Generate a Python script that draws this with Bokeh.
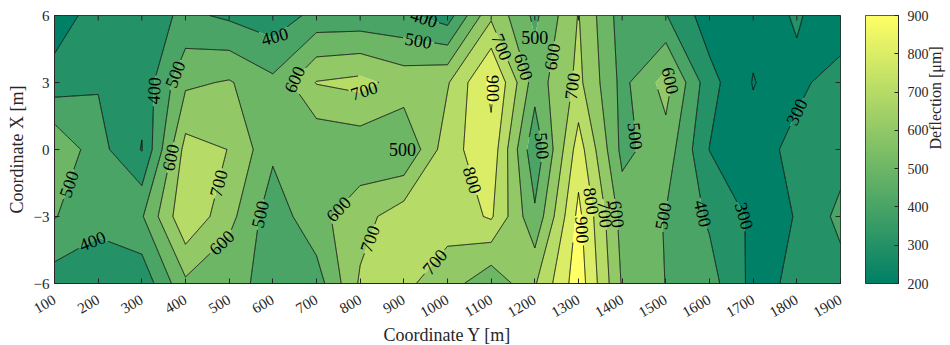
import numpy as np
from bokeh.plotting import figure
from bokeh.layouts import row
from bokeh.models import FixedTicker, ColumnDataSource, LinearColorMapper, Range1d
from bokeh.core.properties import value
from bokeh.embed import file_html
from bokeh.resources import INLINE
from contourpy import contour_generator

# ---------------- data ----------------
coord_y = [100, 200, 300, 400, 500, 600, 700, 800, 900, 1000,
           1100, 1200, 1300, 1400, 1500, 1600, 1700, 1800, 1900]
coord_x = [-6, -3, 0, 3, 6]

# deflection [um] along each row of constant Coordinate X
z_at_x_neg6 = [350, 330, 330, 580, 515, 484, 450, 715, 720, 650, 520, 690, 960, 590, 498, 440, 270, 319, 355]
z_at_x_neg3 = [505, 432, 490, 785, 633, 440, 570, 660, 760, 740, 813, 520, 928, 560, 495, 385, 280, 302, 430]
z_at_x_0    = [595, 437, 295, 737, 698, 520, 510, 530, 499, 760, 869, 420, 850, 471, 557, 298, 240, 340, 354]
z_at_x_pos3 = [345, 392, 330, 581, 609, 524, 705, 730, 660, 690, 925, 546, 725, 470, 640, 335, 195, 270, 360]
z_at_x_pos6 = [240, 350, 346, 422, 382, 339, 430, 430, 420, 350, 680, 478, 705, 450, 405, 246, 230, 315, 210]

contour_levels = [200, 300, 400, 500, 600, 700, 800, 900]
y_tick_values = [-6, -3, 0, 3, 6]
cbar_ticks = [200, 300, 400, 500, 600, 700, 800, 900]

# contour labels: level and approximate anchor (Coordinate Y, Coordinate X)
label_level = [400, 500, 500, 400, 600, 700, 600, 500, 400, 600, 700, 500, 400, 500, 600, 700, 700, 700,
               900, 800, 600, 500, 600, 500, 700, 800, 900, 700, 600, 600, 500, 500, 400, 300, 300]
label_anchor_y = [324, 372, 129, 182, 365, 473, 484, 564, 599, 656, 807, 933, 944, 853, 754, 816, 961, 1115,
                  1109, 1079, 1171, 1201, 1228, 1203, 1275, 1334, 1300, 1368, 1396, 1504, 1441, 1492, 1584, 1694, 1793]
label_anchor_x = [2.64, 3.4, -1.52, -3.94, -0.36, -1.52, -4.2, -2.87, 5.2, 3.0, 2.7, 4.88, 5.7, 0.04, -2.73, -3.94,
                  -4.88, 4.5, 2.73, -1.25, 3.67, 4.75, 4.2, 0.1, 2.87, -2.28, -3.6, -2.87, -2.87, 3.0, 0.63, -2.96,
                  -2.87, -2.82, 1.75]

# ---------------- styling ----------------
FONT = "Liberation Serif"
INK = "#262626"
FRAME_W, FRAME_H = 786, 268
TICK_LEN = 5


def summer(t):
    return "#%02x%02x%02x" % (round(255 * t), round(255 * (0.5 + 0.5 * t)), round(255 * 0.4))


Z = np.array([z_at_x_neg6, z_at_x_neg3, z_at_x_0, z_at_x_pos3, z_at_x_pos6], dtype=float)
yv = np.array(coord_y, dtype=float)
xv = np.array(coord_x, dtype=float)

nb = len(contour_levels) - 1
fill_levels = [min(Z.min(), contour_levels[0]) - 50] + contour_levels + [max(Z.max(), contour_levels[-1]) + 100]
band_colors = [summer(0.0)] + [summer(k / nb) for k in range(nb)] + [summer(1.0)]

y0, x0 = yv[0], xv[0]
sx = FRAME_W / (yv[-1] - yv[0])
sy = FRAME_H / (xv[-1] - xv[0])


def to_px(pts):
    return np.column_stack(((pts[:, 0] - y0) * sx, (pts[:, 1] - x0) * sy))


def densify(P, step=0.75):
    out = [P[:1]]
    seg = np.diff(P, axis=0)
    lens = np.hypot(seg[:, 0], seg[:, 1])
    for a, d, l in zip(P[:-1], seg, lens):
        k = max(1, int(np.ceil(l / step)))
        t = (np.arange(1, k + 1) / k)[:, None]
        out.append(a + d * t)
    return np.vstack(out)


cg = contour_generator(yv, xv, Z)
dense = {}
for lev in contour_levels:
    dense[lev] = [densify(to_px(np.asarray(l))) for l in cg.lines(lev) if len(l) > 1]

# place labels on the nearest point of their contour
lab_x, lab_y, lab_t, lab_a = [], [], [], []
hits = []
for lev, ay, ax in zip(label_level, label_anchor_y, label_anchor_x):
    A = np.array([(ay - y0) * sx, (ax - x0) * sy])
    best = None
    for li, L in enumerate(dense[lev]):
        d = np.hypot(L[:, 0] - A[0], L[:, 1] - A[1])
        i = int(d.argmin())
        if best is None or d[i] < best[0]:
            best = (d[i], li, i)
    if best is None:
        continue
    _, li, i = best
    L = dense[lev][li]
    i0, i1 = max(0, i - 14), min(len(L) - 1, i + 14)
    ang = np.arctan2(L[i1, 1] - L[i0, 1], L[i1, 0] - L[i0, 0])
    while ang > np.pi / 2:
        ang -= np.pi
    while ang <= -np.pi / 2:
        ang += np.pi
    c = L[i]
    hits.append((lev, li, c))
    lab_x.append(c[0] / sx + y0)
    lab_y.append(c[1] / sy + x0)
    lab_t.append(str(lev))
    lab_a.append(float(ang))

R = 15.5
line_xs, line_ys = [], []
for lev in contour_levels:
    for li, L in enumerate(dense[lev]):
        keep = np.ones(len(L), dtype=bool)
        for (lv, idx, c) in hits:
            if lv == lev and idx == li:
                keep &= np.hypot(L[:, 0] - c[0], L[:, 1] - c[1]) > R
        idxs = np.flatnonzero(keep)
        if len(idxs) == 0:
            continue
        br = np.flatnonzero(np.diff(idxs) > 1)
        starts = np.r_[0, br + 1]
        ends = np.r_[br, len(idxs) - 1]
        for s, e in zip(starts, ends):
            seg = L[idxs[s]:idxs[e] + 1]
            if len(seg) >= 2:
                line_xs.append(list(seg[:, 0] / sx + y0))
                line_ys.append(list(seg[:, 1] / sy + x0))

# ---------------- main figure ----------------
p = figure(x_range=Range1d(yv[0], yv[-1]), y_range=Range1d(xv[0], xv[-1]),
           frame_width=FRAME_W, frame_height=FRAME_H,
           min_border_left=54, min_border_right=25, min_border_top=15, min_border_bottom=62,
           output_backend="svg", toolbar_location=None)
p.grid.visible = False
p.outline_line_color = INK
p.background_fill_color = "white"

p.contour(yv, xv, Z, fill_levels, fill_color=band_colors, line_color=None)
p.multi_line(xs=line_xs, ys=line_ys, line_color="black", line_width=0.9)

src = ColumnDataSource(dict(x=lab_x, y=lab_y, text=lab_t, angle=lab_a))
p.text(x="x", y="y", text="text", angle="angle", source=src,
       text_font=value(FONT), text_font_size="18px", text_color="black",
       text_align="center", text_baseline="middle")

# inward tick marks on the top and right edges (box style)
n_top = len(coord_y)
p.segment(x0=coord_y, y0=[xv[-1]] * n_top, x1=coord_y, y1=[xv[-1] - TICK_LEN / sy] * n_top,
          line_color=INK, line_width=1)
n_r = len(y_tick_values)
p.segment(x0=[yv[-1]] * n_r, y0=y_tick_values, x1=[yv[-1] - TICK_LEN / sx] * n_r, y1=y_tick_values,
          line_color=INK, line_width=1)

p.xaxis.ticker = FixedTicker(ticks=coord_y)
p.yaxis.ticker = FixedTicker(ticks=y_tick_values)
p.xaxis.major_label_orientation = np.pi / 6
p.xaxis.axis_label = "Coordinate Y [m]"
p.yaxis.axis_label = "Coordinate X [m]"
for ax in p.axis:
    ax.major_tick_in = TICK_LEN
    ax.major_tick_out = 0
    ax.minor_tick_line_color = None
    ax.axis_line_color = INK
    ax.major_tick_line_color = INK
    ax.major_label_text_font = FONT
    ax.major_label_text_font_size = "15px"
    ax.major_label_text_color = INK
    ax.axis_label_text_font = FONT
    ax.axis_label_text_font_size = "18px"
    ax.axis_label_text_font_style = "normal"
    ax.axis_label_text_color = INK
    ax.axis_label_standoff = 4
p.xaxis.major_label_standoff = 15
p.xaxis.axis_label_standoff = 0
p.yaxis.major_label_standoff = 5

# ---------------- colour bar ----------------
summer256 = [summer(i / 255) for i in range(256)]
mapper = LinearColorMapper(palette=summer256, low=cbar_ticks[0], high=cbar_ticks[-1])
cb = figure(x_range=Range1d(0, 1), y_range=Range1d(cbar_ticks[0], cbar_ticks[-1]),
            frame_width=33, frame_height=FRAME_H,
            min_border_left=0, min_border_right=52, min_border_top=15, min_border_bottom=62,
            output_backend="svg", toolbar_location=None, y_axis_location="right")
cb.grid.visible = False
cb.xaxis.visible = False
cb.outline_line_color = INK
grad = np.linspace(cbar_ticks[0], cbar_ticks[-1], 256).reshape(-1, 1)
cb.image(image=[grad], x=0, y=cbar_ticks[0], dw=1, dh=cbar_ticks[-1] - cbar_ticks[0], color_mapper=mapper)
ya = cb.yaxis[0]
ya.ticker = FixedTicker(ticks=cbar_ticks)
ya.major_tick_in = 4
ya.major_tick_out = 0
ya.minor_tick_line_color = None
ya.axis_line_color = INK
ya.major_tick_line_color = INK
ya.major_label_text_font = FONT
ya.major_label_text_font_size = "14px"
ya.major_label_text_color = INK
ya.major_label_standoff = 9
ya.axis_label = "Deflection [μm]"
ya.axis_label_text_font = FONT
ya.axis_label_text_font_size = "16px"
ya.axis_label_text_font_style = "normal"
ya.axis_label_text_color = INK
ya.axis_label_standoff = 4
try:
    ya.axis_label_orientation = np.pi / 2
except Exception:
    pass

layout = row(p, cb)
open("out.html", "w").write(file_html(layout, INLINE))
